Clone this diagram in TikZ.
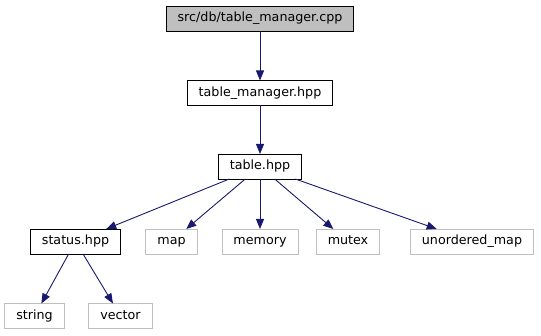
\documentclass[tikz,border=0pt]{standalone}
\usepackage{fontspec}
\setmainfont{DejaVu Sans}
\usepackage{xcolor}
\usetikzlibrary{arrows.meta}
\definecolor{edgec}{RGB}{25,25,112}
\definecolor{undocc}{RGB}{191,191,191}

\begin{document}
\begin{tikzpicture}[x=1pt, y=1pt,
  font=\fontsize{12.7}{15}\selectfont,
  >={Triangle[length=10pt, width=8pt]},
  file/.style={draw=black, line width=0.9pt, minimum height=25pt, text height=9.3pt, text depth=2.6pt, inner xsep=11.5pt, inner ysep=0pt, outer sep=0pt},
  extfile/.style={file, draw=undocc},
  incl/.style={->, edgec, line width=0.9pt}]

\useasboundingbox (0,0) rectangle (541,-336);

%% ── source file and its headers ──────────────────────────────────
\node[file, fill=undocc] (cpp) at (260,-18.5) {src/db/table\_manager.cpp};
\node[file] (mgr)    at (260,-93)    {table\_manager.hpp};
\node[file] (table)  at (260,-166.5) {table.hpp};
\node[file] (status) at (75.5,-241.5) {status.hpp};

%% ── system headers ───────────────────────────────────────────────
\node[extfile] (map)    at (171.5,-241.5) {map};
\node[extfile] (memory) at (260,-241.5)   {memory};
\node[extfile] (mutex)  at (348,-241.5)   {mutex};
\node[extfile] (umap)   at (472,-241.5)   {unordered\_map};
\node[extfile] (string) at (34.5,-316)    {string};
\node[extfile] (vector) at (120.5,-316)   {vector};

%% ── include edges ────────────────────────────────────────────────
\draw[incl] (cpp) -- (mgr);
\draw[incl] (mgr) -- (table);
\foreach \h in {status,map,memory,mutex,umap}{\draw[incl] (table) -- (\h);}
\draw[incl] (status) -- (string);
\draw[incl] (status) -- (vector);

\end{tikzpicture}
\end{document}
